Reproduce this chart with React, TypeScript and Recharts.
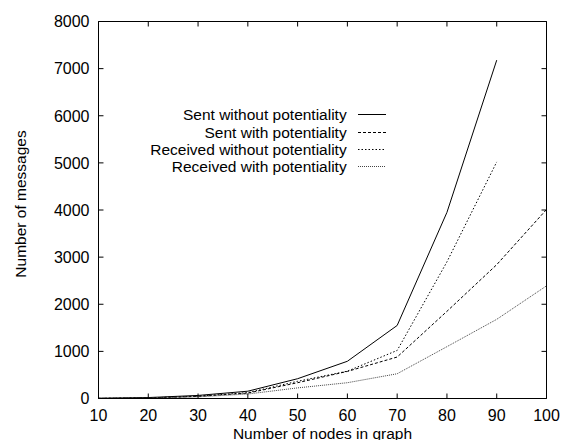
import React from 'react';
import { LineChart, Line, XAxis, YAxis, ReferenceLine } from 'recharts';

// Values
const nodeCounts = [10, 20, 30, 40, 50, 60, 70, 80, 90, 100];
const sentWithout = [5, 20, 65, 155, 420, 790, 1550, 3950, 7180, null];
const sentWith = [3, 12, 45, 115, 335, 575, 880, 1850, 2840, 4010];
const receivedWithout = [3, 12, 50, 125, 365, 580, 1020, 2900, 5020, null];
const receivedWith = [2, 8, 35, 95, 225, 335, 525, 1100, 1680, 2390];

const xTicks = [10, 20, 30, 40, 50, 60, 70, 80, 90, 100];
const yTicks = [0, 1000, 2000, 3000, 4000, 5000, 6000, 7000, 8000];

const seriesNames = [
  'Sent without potentiality',
  'Sent with potentiality',
  'Received without potentiality',
  'Received with potentiality',
];

const FONT = '"Liberation Sans", Arial, Helvetica, sans-serif';

// plot box (gnuplot border)
const LEFT = 98.5;
const RIGHT = 546.5;
const TOP = 21.5;
const BOTTOM = 398.5;
const TICK = 5;
// y tick marks are drawn as short segments in x units (1 unit ~ 5px)
const X_MIN = 10;
const X_MAX = 100;

const series = [
  { key: 'sentWithout', name: seriesNames[0], dash: undefined, color: '#000' },
  { key: 'sentWith', name: seriesNames[1], dash: '3 2', color: '#000' },
  { key: 'receivedWithout', name: seriesNames[2], dash: '1.5 2', color: '#000' },
  { key: 'receivedWith', name: seriesNames[3], dash: '1 1', color: '#444' },
];

const data = nodeCounts.map((n, i) => ({
  nodes: n,
  sentWithout: sentWithout[i],
  sentWith: sentWith[i],
  receivedWithout: receivedWithout[i],
  receivedWith: receivedWith[i],
}));

const labelStyle = { fontSize: 15.5, fontFamily: FONT, fill: '#000' };

// inward tick marks, gnuplot style
const BottomTick = (props: any) => {
  const cx = props.payload.coordinate;
  return (
    <g>
      <line x1={cx} x2={cx} y1={BOTTOM} y2={BOTTOM - TICK} stroke="#000" />
      <text x={cx} y={421} textAnchor="middle" style={{ fontSize: 16, fontFamily: FONT, fill: '#000' }}>
        {props.payload.value}
      </text>
    </g>
  );
};

const TopTick = (props: any) => {
  const cx = props.payload.coordinate;
  return <line x1={cx} x2={cx} y1={TOP} y2={TOP + TICK} stroke="#000" />;
};

const LeftTick = (props: any) => {
  const cy = props.payload.coordinate;
  return (
    <text x={89.5} y={cy} dy="0.36em" textAnchor="end" style={{ fontSize: 16, fontFamily: FONT, fill: '#000' }}>
      {props.payload.value}
    </text>
  );
};

// gnuplot-style key: right aligned text, line sample on the right
const KeyBox = () => (
  <div
    style={{
      position: 'absolute',
      left: 150,
      top: 106.4,
      width: 240,
      fontFamily: FONT,
      fontSize: 15.5,
      color: '#000',
    }}
  >
    {series.map((s) => (
      <div key={s.key} style={{ display: 'flex', alignItems: 'center', height: 17.2 }}>
        <span style={{ width: 196.7, textAlign: 'right', whiteSpace: 'nowrap', lineHeight: '17px' }}>{s.name}</span>
        <svg width={30} height={17} style={{ marginLeft: 11, display: 'block' }}>
          <line x1={0} x2={28} y1={8.5} y2={8.5} stroke={s.color} strokeWidth={1} strokeDasharray={s.dash} />
        </svg>
      </div>
    ))}
  </div>
);

export default function App() {
  return (
    <div style={{ position: 'absolute', left: 0, top: 0, width: 561, height: 440, background: '#fff' }}>
      <LineChart
        width={561}
        height={440}
        data={data}
        margin={{ top: TOP - 1, right: 561 - RIGHT - 1, left: 0, bottom: 0 }}
      >
        <XAxis
          dataKey="nodes"
          type="number"
          domain={[X_MIN, X_MAX]}
          ticks={xTicks}
          height={440 - BOTTOM}
          tickLine={false}
          tick={<BottomTick />}
          stroke="#000"
          label={{
            value: 'Number of nodes in graph',
            position: 'insideBottom',
            offset: 1.5,
            style: labelStyle,
          }}
        />
        <XAxis
          xAxisId="top"
          orientation="top"
          dataKey="nodes"
          type="number"
          domain={[X_MIN, X_MAX]}
          ticks={xTicks}
          height={1}
          tickLine={false}
          tick={<TopTick />}
          stroke="#000"
        />
        <YAxis
          type="number"
          domain={[0, 8000]}
          ticks={yTicks}
          width={LEFT}
          tickLine={false}
          tick={<LeftTick />}
          stroke="#000"
          label={{
            content: () => (
              <text
                x={26}
                y={204}
                transform="rotate(-90, 26, 204)"
                textAnchor="middle"
                style={labelStyle}
              >
                Number of messages
              </text>
            ),
          }}
        />
        <YAxis
          yAxisId="right"
          orientation="right"
          type="number"
          domain={[0, 8000]}
          ticks={yTicks}
          width={1}
          tickLine={false}
          tick={false}
          stroke="#000"
        />
        {yTicks.map((v) => (
          <ReferenceLine key={'l' + v} segment={[{ x: X_MIN, y: v }, { x: X_MIN + 1, y: v }]} stroke="#000" />
        ))}
        {yTicks.map((v) => (
          <ReferenceLine key={'r' + v} segment={[{ x: X_MAX - 1, y: v }, { x: X_MAX, y: v }]} stroke="#000" />
        ))}
        {series.map((s) => (
          <Line
            key={s.key}
            type="linear"
            dataKey={s.key}
            name={s.name}
            stroke={s.color}
            strokeWidth={1}
            strokeDasharray={s.dash}
            dot={false}
            activeDot={false}
            isAnimationActive={false}
          />
        ))}
      </LineChart>
      <KeyBox />
    </div>
  );
}
